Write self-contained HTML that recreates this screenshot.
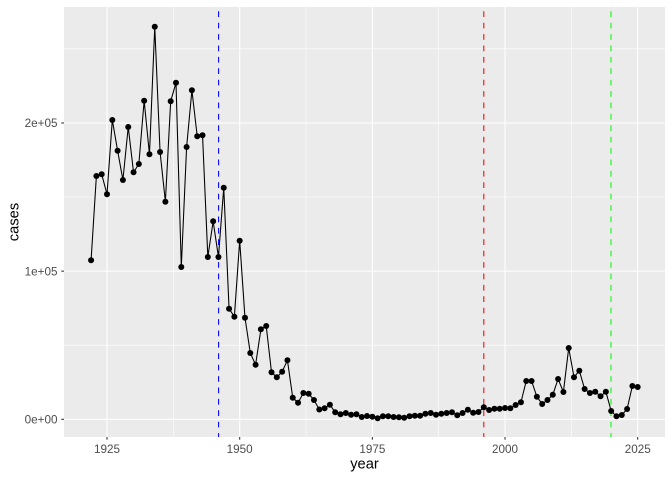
<!DOCTYPE html>
<html><head><meta charset="utf-8"><style>
html,body{margin:0;padding:0;background:#fff;}
svg{display:block;}
text{font-family:"Liberation Sans",Arial,sans-serif;}
</style></head><body>
<svg width="672" height="480" viewBox="0 0 672 480" xmlns="http://www.w3.org/2000/svg">
<rect x="0" y="0" width="672" height="480" fill="#fff"/>
<rect x="64" y="7" width="601" height="430" fill="#EBEBEB"/>
<g stroke="#fff" stroke-width="0.53" fill="none">
<line x1="64" x2="665" y1="345.2" y2="345.2"/>
<line x1="64" x2="665" y1="197" y2="197"/>
<line x1="64" x2="665" y1="48.8" y2="48.8"/>
<line y1="7" y2="437" x1="173.34" x2="173.34"/>
<line y1="7" y2="437" x1="306.01" x2="306.01"/>
<line y1="7" y2="437" x1="438.69" x2="438.69"/>
<line y1="7" y2="437" x1="571.36" x2="571.36"/>
</g>
<g stroke="#fff" stroke-width="1.07" fill="none">
<line x1="64" x2="665" y1="419.3" y2="419.3"/>
<line x1="64" x2="665" y1="271.15" y2="271.15"/>
<line x1="64" x2="665" y1="123" y2="123"/>
<line y1="7" y2="437" x1="107" x2="107"/>
<line y1="7" y2="437" x1="239.68" x2="239.68"/>
<line y1="7" y2="437" x1="372.35" x2="372.35"/>
<line y1="7" y2="437" x1="505.03" x2="505.03"/>
<line y1="7" y2="437" x1="637.7" x2="637.7"/>
</g>
<g stroke-width="1.07" stroke-dasharray="5.7,5.7" stroke-dashoffset="7.1" fill="none">
<line x1="218.6" x2="218.6" y1="7" y2="437" stroke="#0000FF"/>
<line x1="483.8" x2="483.8" y1="7" y2="437" stroke="#FF0000"/>
<line x1="611" x2="611" y1="7" y2="437" stroke="#00FF00"/>
</g>
<polyline fill="none" stroke="#000" stroke-width="1.07" stroke-linejoin="round" points="91.08,260.3 96.39,176 101.69,174.3 107,194.3 112.31,120 117.61,150.7 122.92,180 128.23,127 133.54,172.3 138.84,164 144.15,100.7 149.46,154.3 154.76,26.7 160.07,152 165.38,201.7 170.68,101.3 175.99,82.7 181.3,267 186.61,147 191.91,90.3 197.22,136.3 202.53,135.3 207.83,257 213.14,221.3 218.45,257 223.75,187.7 229.06,308.7 234.37,316.7 239.68,240.7 244.98,317.7 250.29,353 255.6,364.7 260.9,329.3 266.21,326 271.52,372.3 276.82,377.3 282.13,371.7 287.44,360.3 292.75,397.7 298.05,402.7 303.36,393 308.67,393.7 313.97,400 319.28,409.5 324.59,408.2 329.89,404.7 335.2,412.3 340.51,414.3 345.82,413 351.12,414.7 356.43,414.3 361.74,417 367.04,416 372.35,416.7 377.66,418.3 382.96,416.3 388.27,416.3 393.58,417 398.89,417.3 404.19,417.7 409.5,416.3 414.81,415.7 420.11,415.7 425.42,413.7 430.73,413 436.03,414.7 441.34,413.7 446.65,413 451.96,412.3 457.26,415.3 462.57,413 467.88,409.7 473.18,412.7 478.49,412 483.8,407.3 489.1,410 494.41,408.7 499.72,408.7 505.03,408 510.33,408.3 515.64,405 520.95,402.3 526.25,381 531.56,381 536.87,396.7 542.17,404 547.48,400 552.79,394.7 558.1,379 563.4,392 568.71,348 574.02,377.3 579.32,370.7 584.63,389 589.94,393 595.24,391.7 600.55,396.3 605.86,391.7 611.17,411 616.47,416.3 621.78,415 627.09,409 632.39,386 637.7,387"/>
<g fill="#000">
<circle cx="91.08" cy="260.3" r="3"/><circle cx="96.39" cy="176" r="3"/><circle cx="101.69" cy="174.3" r="3"/><circle cx="107" cy="194.3" r="3"/><circle cx="112.31" cy="120" r="3"/><circle cx="117.61" cy="150.7" r="3"/><circle cx="122.92" cy="180" r="3"/><circle cx="128.23" cy="127" r="3"/><circle cx="133.54" cy="172.3" r="3"/><circle cx="138.84" cy="164" r="3"/><circle cx="144.15" cy="100.7" r="3"/><circle cx="149.46" cy="154.3" r="3"/><circle cx="154.76" cy="26.7" r="3"/><circle cx="160.07" cy="152" r="3"/><circle cx="165.38" cy="201.7" r="3"/><circle cx="170.68" cy="101.3" r="3"/><circle cx="175.99" cy="82.7" r="3"/><circle cx="181.3" cy="267" r="3"/><circle cx="186.61" cy="147" r="3"/><circle cx="191.91" cy="90.3" r="3"/><circle cx="197.22" cy="136.3" r="3"/><circle cx="202.53" cy="135.3" r="3"/><circle cx="207.83" cy="257" r="3"/><circle cx="213.14" cy="221.3" r="3"/><circle cx="218.45" cy="257" r="3"/><circle cx="223.75" cy="187.7" r="3"/><circle cx="229.06" cy="308.7" r="3"/><circle cx="234.37" cy="316.7" r="3"/><circle cx="239.68" cy="240.7" r="3"/><circle cx="244.98" cy="317.7" r="3"/><circle cx="250.29" cy="353" r="3"/><circle cx="255.6" cy="364.7" r="3"/><circle cx="260.9" cy="329.3" r="3"/><circle cx="266.21" cy="326" r="3"/><circle cx="271.52" cy="372.3" r="3"/><circle cx="276.82" cy="377.3" r="3"/><circle cx="282.13" cy="371.7" r="3"/><circle cx="287.44" cy="360.3" r="3"/><circle cx="292.75" cy="397.7" r="3"/><circle cx="298.05" cy="402.7" r="3"/><circle cx="303.36" cy="393" r="3"/><circle cx="308.67" cy="393.7" r="3"/><circle cx="313.97" cy="400" r="3"/><circle cx="319.28" cy="409.5" r="3"/><circle cx="324.59" cy="408.2" r="3"/><circle cx="329.89" cy="404.7" r="3"/><circle cx="335.2" cy="412.3" r="3"/><circle cx="340.51" cy="414.3" r="3"/><circle cx="345.82" cy="413" r="3"/><circle cx="351.12" cy="414.7" r="3"/><circle cx="356.43" cy="414.3" r="3"/><circle cx="361.74" cy="417" r="3"/><circle cx="367.04" cy="416" r="3"/><circle cx="372.35" cy="416.7" r="3"/><circle cx="377.66" cy="418.3" r="3"/><circle cx="382.96" cy="416.3" r="3"/><circle cx="388.27" cy="416.3" r="3"/><circle cx="393.58" cy="417" r="3"/><circle cx="398.89" cy="417.3" r="3"/><circle cx="404.19" cy="417.7" r="3"/><circle cx="409.5" cy="416.3" r="3"/><circle cx="414.81" cy="415.7" r="3"/><circle cx="420.11" cy="415.7" r="3"/><circle cx="425.42" cy="413.7" r="3"/><circle cx="430.73" cy="413" r="3"/><circle cx="436.03" cy="414.7" r="3"/><circle cx="441.34" cy="413.7" r="3"/><circle cx="446.65" cy="413" r="3"/><circle cx="451.96" cy="412.3" r="3"/><circle cx="457.26" cy="415.3" r="3"/><circle cx="462.57" cy="413" r="3"/><circle cx="467.88" cy="409.7" r="3"/><circle cx="473.18" cy="412.7" r="3"/><circle cx="478.49" cy="412" r="3"/><circle cx="483.8" cy="407.3" r="3"/><circle cx="489.1" cy="410" r="3"/><circle cx="494.41" cy="408.7" r="3"/><circle cx="499.72" cy="408.7" r="3"/><circle cx="505.03" cy="408" r="3"/><circle cx="510.33" cy="408.3" r="3"/><circle cx="515.64" cy="405" r="3"/><circle cx="520.95" cy="402.3" r="3"/><circle cx="526.25" cy="381" r="3"/><circle cx="531.56" cy="381" r="3"/><circle cx="536.87" cy="396.7" r="3"/><circle cx="542.17" cy="404" r="3"/><circle cx="547.48" cy="400" r="3"/><circle cx="552.79" cy="394.7" r="3"/><circle cx="558.1" cy="379" r="3"/><circle cx="563.4" cy="392" r="3"/><circle cx="568.71" cy="348" r="3"/><circle cx="574.02" cy="377.3" r="3"/><circle cx="579.32" cy="370.7" r="3"/><circle cx="584.63" cy="389" r="3"/><circle cx="589.94" cy="393" r="3"/><circle cx="595.24" cy="391.7" r="3"/><circle cx="600.55" cy="396.3" r="3"/><circle cx="605.86" cy="391.7" r="3"/><circle cx="611.17" cy="411" r="3"/><circle cx="616.47" cy="416.3" r="3"/><circle cx="621.78" cy="415" r="3"/><circle cx="627.09" cy="409" r="3"/><circle cx="632.39" cy="386" r="3"/><circle cx="637.7" cy="387" r="3"/>
</g>
<g stroke="#333" stroke-width="1.07">
<line x1="61.3" x2="64" y1="419.3" y2="419.3"/>
<line x1="61.3" x2="64" y1="271.15" y2="271.15"/>
<line x1="61.3" x2="64" y1="123" y2="123"/>
<line x1="107" x2="107" y1="437" y2="439.7"/>
<line x1="239.68" x2="239.68" y1="437" y2="439.7"/>
<line x1="372.35" x2="372.35" y1="437" y2="439.7"/>
<line x1="505.03" x2="505.03" y1="437" y2="439.7"/>
<line x1="637.7" x2="637.7" y1="437" y2="439.7"/>
</g>
<g fill="#4D4D4D" font-size="11.7" text-anchor="end">
<text x="57.5" y="423.4">0e+00</text>
<text x="57.5" y="275.3">1e+05</text>
<text x="57.5" y="127.1">2e+05</text>
</g>
<g fill="#4D4D4D" font-size="11.7" text-anchor="middle">
<text x="107" y="452.8">1925</text>
<text x="239.68" y="452.8">1950</text>
<text x="372.35" y="452.8">1975</text>
<text x="505.03" y="452.8">2000</text>
<text x="637.7" y="452.8">2025</text>
</g>
<text x="364.5" y="468.6" font-size="14.7" text-anchor="middle" fill="#000">year</text>
<text transform="translate(18.3,222) rotate(-90)" font-size="14.7" text-anchor="middle" fill="#000">cases</text>
</svg>
</body></html>
